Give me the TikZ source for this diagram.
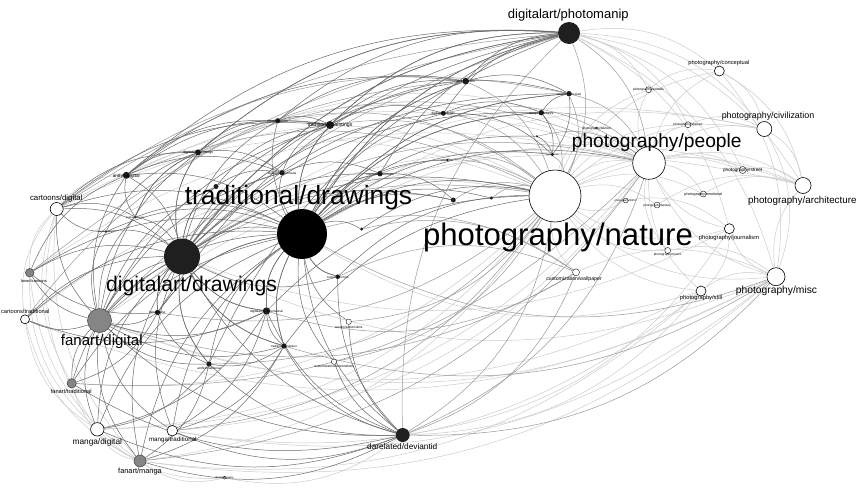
\documentclass[tikz,border=0pt]{standalone}
\usepackage{fontspec}
\setmainfont{Liberation Sans}
\pgfdeclarelayer{edges}
\pgfsetlayers{edges,main}
\begin{document}
\begin{tikzpicture}[x=1pt,y=-1pt,
 wn/.style={circle,draw=black,fill=white,inner sep=0pt,line width=0.6pt},
 tw/.style={circle,draw=black,fill=white,inner sep=0pt,line width=0.35pt},
 bn/.style={circle,fill=black!88,inner sep=0pt},
 gn/.style={circle,fill=black!48,draw=black!75,line width=0.5pt,inner sep=0pt},
 lbl/.style={anchor=base,inner sep=0pt,font=\fontsize{#1}{#1}\selectfont},
 ed/.style={draw=black!58,line width=0.5pt},
 em/.style={draw=black!40,line width=0.5pt},
 el/.style={draw=black!20,line width=0.5pt},
]
\useasboundingbox (0,0) rectangle (864,488);
% ---------------- nodes ----------------
\node[bn,fill=black,minimum size=50pt] (TD) at (302,234) {};
\node[bn,minimum size=36pt] (DD) at (182,256.5) {};
\node[bn,minimum size=22pt] (PM) at (569,33) {};
\node[bn,minimum size=14pt] (DV) at (402.7,435) {};
\node[gn,minimum size=24pt] (FD) at (99.5,320.5) {};
\node[gn,minimum size=8.6pt] (FC) at (29.7,272.7) {};
\node[gn,minimum size=9.4pt] (FT) at (71.7,383.3) {};
\node[gn,minimum size=12pt] (FM) at (140,461) {};
\node[wn,minimum size=13pt] (CDg) at (56.7,209) {};
\node[wn,minimum size=9pt] (CTr) at (25,319.3) {};
\node[wn,minimum size=13.4pt] (MD) at (97.3,429.3) {};
\node[wn,minimum size=10.6pt] (MT) at (172.3,430.7) {};
\node[bn,minimum size=7pt] (AD) at (126.3,175.3) {};
\node[bn,minimum size=6pt] (b1) at (198,152.5) {};
\node[bn,minimum size=5pt] (b2) at (277.7,120.7) {};
\node[bn,minimum size=8pt] (b3) at (330,125) {};
\node[bn,minimum size=5.4pt] (b4) at (282,172.7) {};
\node[bn,minimum size=5.4pt] (b5) at (380,173.7) {};
\node[bn,minimum size=5pt] (b6) at (443.3,113.3) {};
\node[bn,minimum size=6.6pt] (b7) at (465.7,81.2) {};
\node[bn,minimum size=5.4pt] (b8) at (569,93.7) {};
\node[bn,minimum size=5.4pt] (b9) at (541.3,112.7) {};
\node[bn,minimum size=5pt] (b10) at (453.3,200) {};
\node[bn,minimum size=5pt] (b11) at (216,186.5) {};
\node[bn,minimum size=3.4pt] (b12) at (361.7,229) {};
\node[bn,minimum size=4.6pt] (b13) at (337.7,276.7) {};
\node[bn,minimum size=7.4pt] (b14) at (266.5,311) {};
\node[bn,minimum size=5.4pt] (b15) at (157.5,312.5) {};
\node[bn,minimum size=5.4pt] (b16) at (284,346) {};
\node[bn,minimum size=5.4pt] (b17) at (209,364) {};
\node[bn,minimum size=3.4pt] (b18) at (491.3,198) {};
\node[bn,minimum size=3.4pt] (b19) at (552.3,154.5) {};
\node[bn,minimum size=2.4pt] (b20) at (537,136.3) {};
\node[bn,minimum size=2.4pt] (b21) at (447.3,160) {};
\node[bn,fill=black!70,minimum size=3pt] (t1) at (135.3,217) {};
\node[bn,fill=black!70,minimum size=3pt] (t2) at (106,231.7) {};
\node[tw,minimum size=5.4pt] (w1) at (348.7,321.7) {};
\node[tw,minimum size=5.4pt] (w2) at (334,361.7) {};
\node[tw,minimum size=3pt] (w3) at (224.5,477.7) {};
\node[wn,minimum size=52pt] (PN) at (555,196) {};
\node[wn,minimum size=32.6pt] (PP) at (649,163) {};
\node[wn,minimum size=10pt] (PCo) at (719.3,71) {};
\node[wn,minimum size=15pt] (PCi) at (764.3,129) {};
\node[wn,minimum size=16pt] (PAr) at (803,185.5) {};
\node[wn,minimum size=10pt] (PJ) at (729.3,228.7) {};
\node[wn,minimum size=18pt] (PMi) at (776,276.7) {};
\node[wn,minimum size=10pt] (PSt) at (701,291) {};
\node[tw,minimum size=7pt] (PStr) at (742.7,170) {};
\node[tw,minimum size=7pt] (CW) at (576,272.3) {};
\node[tw,minimum size=6pt] (p1) at (648.5,89.7) {};
\node[tw,minimum size=6pt] (p2) at (688,124.7) {};
\node[tw,minimum size=6pt] (p3) at (703.3,194) {};
\node[tw,minimum size=5pt] (p4) at (625.7,200.5) {};
\node[tw,minimum size=6pt] (p5) at (657,205) {};
\node[tw,minimum size=6pt] (p6) at (667.7,250.5) {};
\node[tw,minimum size=2pt] (p7) at (596.7,128) {};
% ---------------- edges ----------------
\begin{pgfonlayer}{edges}
\fill[white] (0,0) rectangle (864,488);
% light, curving up
\foreach \a/\b in {PN/PP, PN/PCo, PN/PCi, PN/PAr, PN/PStr, PN/p1, PN/p2, PN/p3, PN/p5, PN/p7,
  PP/PCo, PP/PCi, PP/PAr, PP/PStr, PP/p1, PP/p2, PP/p3,
  PCo/PCi, PCi/PAr, PCo/PAr, PCo/PMi, PCi/PMi, PStr/PAr, p3/PAr, p2/PCi, p1/PCo,
  PM/PCo, PM/PCi, PM/PAr, PM/PMi, PM/p1, PM/p2, PM/PStr, PM/PJ,
  CDg/PN, CDg/PP, FD/PP, FC/PP, CTr/PN, TD/PCi, TD/PAr, FD/PAr, DD/PCi,
  AD/PP, b1/PN, b2/PP, CW/PMi, p4/PJ, p6/PMi, p5/PAr, CDg/AD, FC/CDg}
  \draw[el] (\a) to[bend left=24] (\b);
% light, curving down
\foreach \a/\b in {PN/PJ, PN/PMi, PN/PSt, PN/p4, PN/p6, PN/CW,
  PP/PJ, PP/PMi, PP/PSt, PP/p6, PAr/PMi, PMi/PSt, PJ/PMi, PSt/PJ,
  CDg/FM, CDg/MD, CTr/FM, FC/FM, FC/MD, CDg/FT, CDg/CTr, FT/FM, MD/FM, CTr/MD,
  MD/PN, FM/PN, MT/PMi, FM/PMi, DD/PMi, FD/PMi, TD/PSt, MD/PP, FT/PN, FM/w3, MD/w3, w3/DV,
  MT/PSt, DD/PJ, FD/PSt, CTr/PMi, DV/PSt, DV/PJ, MT/PP, FM/PSt}
  \draw[el] (\a) to[bend right=24] (\b);
% medium
\foreach \a/\b in {PM/PN, PM/PP, b8/PN, b9/PN, b19/PN, b20/PP, b10/PN, b18/PN, b9/PP, b8/PP,
  b7/PN, b6/PN, b6/PP, b5/PN, b3/PN, b2/PN, b1/PP, AD/PN, b21/PN, FD/PN, DD/PP, TD/CW,
  b12/CW, b13/CW, CDg/b8, CTr/b7}
  \draw[em] (\a) to[bend left=24] (\b);
\foreach \a/\b in {PM/DV, DV/PMi, DV/CW, DV/PN, DV/PP, TD/PMi, b16/PMi, b17/PN, w1/PN, w2/PN,
  FD/CW, b14/CW, MT/PN, FT/PP, b15/PN, FM/PP}
  \draw[em] (\a) to[bend right=24] (\b);
\foreach \a/\b in {CDg/PM, FC/PM, FD/PM}
  \draw[em] (\a) to[bend left=14] (\b);
% dark, curving up
\foreach \a/\b in {TD/b3, TD/b2, TD/b5, TD/b6, TD/b7, TD/b9, TD/b8, TD/PM, TD/b10, TD/b18,
  TD/b21, TD/b19, TD/b20, TD/b12, TD/PN, TD/PP,
  DD/TD, DD/b1, DD/b2, DD/b3, DD/b4, DD/b11, DD/b7, DD/PM, DD/b9, DD/b6, DD/b5, DD/b10, DD/PN, DD/b8,
  FD/DD, FD/TD, FD/AD, FD/b1, FD/b11, FD/b3, FD/b4, FD/t1, FD/t2,
  AD/TD, AD/DD, AD/b1, AD/b2, AD/b3, AD/b4, AD/b7,
  CDg/DD, CDg/TD, CDg/b1, CDg/b3, CDg/t1,
  FC/DD, FC/TD, FC/AD, CTr/DD, CTr/TD, FT/DD, FT/TD, MD/DD, MD/TD, MT/DD, MT/TD, FM/DD, FM/TD,
  b1/b2, b1/b3, b1/PM, b2/b3, b2/PM, b2/b7, b3/PM, b3/b6, b3/b7, b3/b8, b5/PM, b6/PM, b7/PM,
  b4/b5, b1/b4, b11/b4, t1/TD, t2/TD, t1/DD, t2/DD, b15/DD, b15/TD, b14/TD, b14/DD, b17/TD,
  b17/DD, b16/TD, b16/DD, b13/TD, b13/PN, b12/PN, b16/PN, b14/PN, b17/PM, b15/PM,
  b9/b8, b6/b9, b7/b8, b4/b3, b11/b3, t1/b1, t2/b1, b5/b10, b6/b19, b9/b19, b8/b19, b20/b19,
  AD/PM}
  \draw[ed] (\a) to[bend left=22] (\b);
% dark, curving down
\foreach \a/\b in {TD/DV, DD/DV, FD/DV, FM/DV, MD/DV, MT/DV, FT/DV, b17/DV, b16/DV, b14/DV,
  b13/DV, w1/DV, w2/DV, FD/FM, FD/MD, FD/MT, FD/FT, FC/FD, CTr/FD, CDg/FD, FD/b15, FD/b14,
  FD/b17, DD/b15, DD/b14, DD/b17, DD/b16, DD/b13, TD/b13, TD/b14, TD/b16, TD/w1, TD/w2,
  TD/b15, b1/DD, b11/DD, b4/TD, b5/TD, b3/TD, b7/TD, PM/TD, PM/DD, b8/TD, b9/TD,
  FM/b17, MT/b16, MD/b17, FT/b15, b15/b17, b14/b16, b17/b16, FC/b15, CTr/b14, MD/b14,
  AD/t1, CDg/t2, b1/t1, FD/b16, FM/b16, MT/b14, PM/b3, PM/b1}
  \draw[ed] (\a) to[bend right=22] (\b);
\end{pgfonlayer}
% ---------------- labels ----------------
\node[lbl=26.4] (lTD) at (298.5,204.5) {traditional/drawings};
\node[lbl=21.2] (lDD) at (191.5,291) {digitalart/drawings};
\node[lbl=31.1] (lPN) at (558,245) {photography/nature};
\node[lbl=19.2] (lPP) at (656.7,147) {photography/people};
\node[lbl=13] (lPM) at (568.3,18.3) {digitalart/photomanip};
\node[lbl=15] (lFD) at (101.8,345) {fanart/digital};
\node[lbl=8.3] (lDV) at (402.3,449.3) {darelated/deviantid};
\node[lbl=7.8] (lCDg) at (56.3,200.7) {cartoons/digital};
\node[lbl=3.9] (lFC) at (33.8,282) {fanart/cartoons};
\node[lbl=5.7] (lCTr) at (25.2,313.5) {cartoons/traditional};
\node[lbl=5.7] (lFT) at (71.2,393) {fanart/traditional};
\node[lbl=8.3] (lMD) at (97.3,444) {manga/digital};
\node[lbl=6.2] (lMT) at (172.8,441.3) {manga/traditional};
\node[lbl=7.4] (lFM) at (140,473.8) {fanart/manga};
\node[lbl=5.7] (lPCo) at (718.8,64) {photography/conceptual};
\node[lbl=8.9] (lPCi) at (768,118) {photography/civilization};
\node[lbl=9.8] (lPAr) at (802.3,203.3) {photography/architecture};
\node[lbl=5.8] (lPJ) at (729,239) {photography/journalism};
\node[lbl=10.3] (lPMi) at (776.5,293.5) {photography/misc};
\node[lbl=5.8] (lPSt) at (701,299.5) {photography/still};
\node[lbl=5.2] (lCW) at (574,280) {customization/wallpaper};
\node[lbl=4.7] (lPStr) at (742.7,171.6) {photography/street};
\node[lbl=3.3] (lp1) at (648.5,90.9) {photography/animals};
\node[lbl=3.1] (lp2) at (688,125.9) {photography/abstract};
\node[lbl=3.7] (lp3) at (703.3,195.3) {photography/emotional};
\node[lbl=2.6] (lp4) at (625.7,201.5) {photography/horror};
\node[lbl=3] (lp5) at (657,206.1) {photography/fantasy};
\node[lbl=3.2] (lp6) at (667.7,255) {photography/macro};
\node[lbl=3.2] (lp7) at (596.7,129) {photography/fashion};
\node[lbl=4.7] (lAD) at (126.3,177) {anthro/digital};
\node[lbl=3.7] (lb1) at (198,153.8) {digitalart/paintings};
\node[lbl=3.1] (lb2) at (277.7,122) {digitalart/vector};
\node[lbl=5.2] (lb3) at (330,126.8) {traditional/paintings};
\node[lbl=3] (lb4) at (282,174) {digitalart/mixedmedia};
\node[lbl=2.7] (lb5) at (380,175) {traditional/mixedmedia};
\node[lbl=3.2] (lb6) at (443.3,114.6) {digitalart/fractals};
\node[lbl=3.2] (lb7) at (465.7,82.5) {artisan/crafts};
\node[lbl=3] (lb8) at (569,95) {resources/stockart};
\node[lbl=3] (lb9) at (541.3,114) {designs/interfaces};
\node[lbl=3] (lb13) at (337.7,278) {cartoons/comics};
\node[lbl=3.2] (lb14) at (266.5,312.3) {digitalart/3-dimensional};
\node[lbl=3.3] (lb15) at (157.5,313.8) {fanart/misc};
\node[lbl=3] (lb16) at (284,347.3) {traditional/sculpture};
\node[lbl=3.1] (lb17) at (209,369) {anthro/traditional};
\node[lbl=3.2] (lw1) at (348.7,328) {customization/skins};
\node[lbl=3.4] (lw2) at (334,367.7) {customization/screenshots};
\node[lbl=2.6] (lw3) at (224.5,478.9) {literature/poetry};
\node[lbl=2.4] (lt1) at (135.3,218.2) {traditional/comics};
\node[lbl=2.4] (lt2) at (106,232.9) {literature/prose};
\node[lbl=2.2] (lb19) at (552.3,155.6) {digitalart/misc};
\node[lbl=2.2] (lb21) at (447.3,161.1) {artisan/misc};
\end{tikzpicture}
\end{document}
